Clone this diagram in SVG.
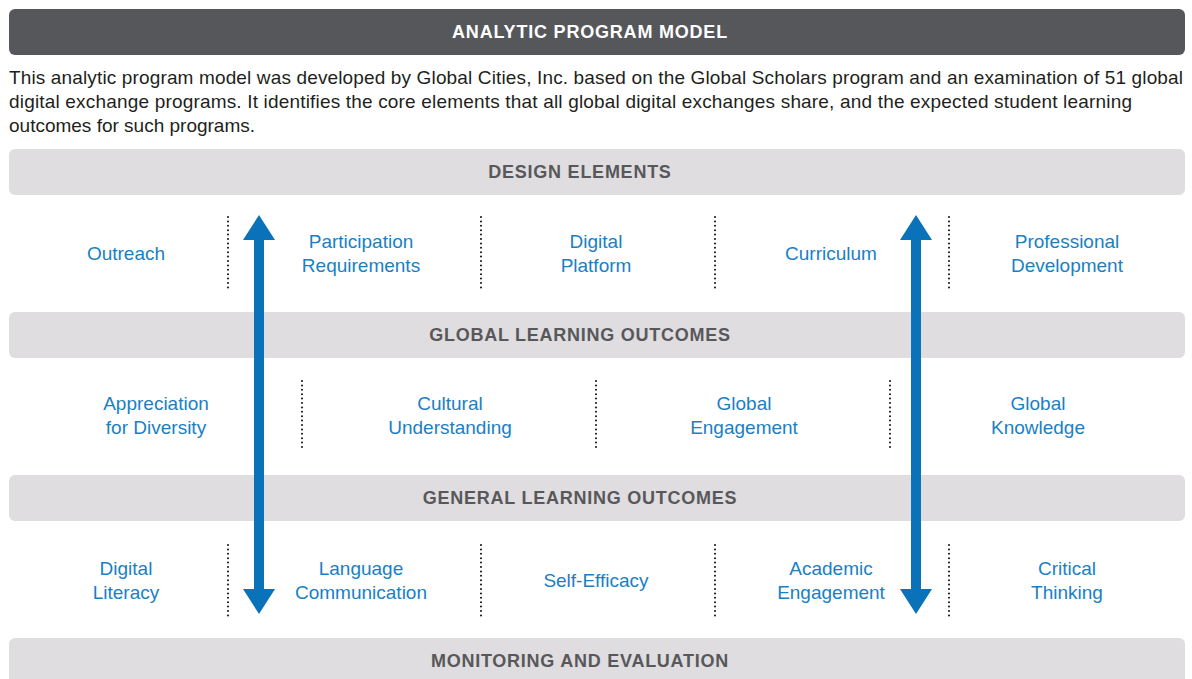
<svg xmlns="http://www.w3.org/2000/svg" width="1192" height="679" viewBox="0 0 1192 679">
<style>
.bg{fill:#ffffff}
.title{fill:#56575b}
.bar{fill:#dfdddf}
.tt{font-family:"Liberation Sans",Arial,sans-serif;font-weight:bold;font-size:18px;fill:#ffffff;text-anchor:middle;letter-spacing:0.8px}
.bt{font-family:"Liberation Sans",Arial,sans-serif;font-weight:bold;font-size:18px;fill:#58585b;text-anchor:middle;letter-spacing:0.75px}
.desc{font-family:"Liberation Sans",Arial,sans-serif;font-size:19px;fill:#231f20}
.lb{font-family:"Liberation Sans",Arial,sans-serif;font-size:19px;fill:#1a80c4;text-anchor:middle}
.dot{stroke:#111;stroke-width:2;stroke-dasharray:0 4.4;stroke-linecap:round;fill:none}
.arr{fill:#0a72b9}
</style>
<rect class="bg" width="1192" height="679"/>
<g id="title">
<rect class="title" x="9" y="9" width="1176" height="46" rx="6"/>
<text class="tt" x="590" y="38">ANALYTIC PROGRAM MODEL</text>
</g>
<g id="description">
<text class="desc" x="9" y="84" textLength="1174" lengthAdjust="spacing">This analytic program model was developed by Global Cities, Inc. based on the Global Scholars program and an examination of 51 global</text>
<text class="desc" x="9" y="108" textLength="1123" lengthAdjust="spacing">digital exchange programs. It identifies the core elements that all global digital exchanges share, and the expected student learning</text>
<text class="desc" x="9" y="132">outcomes for such programs.</text>
</g>
<g id="design-elements">
<rect class="bar" x="9" y="149" width="1176" height="46" rx="6"/>
<text class="bt" x="580" y="178">DESIGN ELEMENTS</text>
</g>
<g id="outreach"><text class="lb" x="126" y="260">Outreach</text></g>
<g id="participation"><text class="lb" x="361" y="248">Participation</text><text class="lb" x="361" y="272">Requirements</text></g>
<g id="digital-platform"><text class="lb" x="596" y="248">Digital</text><text class="lb" x="596" y="272">Platform</text></g>
<g id="curriculum"><text class="lb" x="831" y="260">Curriculum</text></g>
<g id="professional-development"><text class="lb" x="1067" y="248">Professional</text><text class="lb" x="1067" y="272">Development</text></g>
<g id="global-learning-outcomes">
<rect class="bar" x="9" y="312" width="1176" height="46" rx="6"/>
<text class="bt" x="580" y="341">GLOBAL LEARNING OUTCOMES</text>
</g>
<g id="appreciation"><text class="lb" x="156" y="410">Appreciation</text><text class="lb" x="156" y="434">for Diversity</text></g>
<g id="cultural"><text class="lb" x="450" y="410">Cultural</text><text class="lb" x="450" y="434">Understanding</text></g>
<g id="global-engagement"><text class="lb" x="744" y="410">Global</text><text class="lb" x="744" y="434">Engagement</text></g>
<g id="global-knowledge"><text class="lb" x="1038" y="410">Global</text><text class="lb" x="1038" y="434">Knowledge</text></g>
<g id="general-learning-outcomes">
<rect class="bar" x="9" y="475" width="1176" height="46" rx="6"/>
<text class="bt" x="580" y="504">GENERAL LEARNING OUTCOMES</text>
</g>
<g id="digital-literacy"><text class="lb" x="126" y="575">Digital</text><text class="lb" x="126" y="599">Literacy</text></g>
<g id="language"><text class="lb" x="361" y="575">Language</text><text class="lb" x="361" y="599">Communication</text></g>
<g id="self-efficacy"><text class="lb" x="596" y="587">Self-Efficacy</text></g>
<g id="academic"><text class="lb" x="831" y="575">Academic</text><text class="lb" x="831" y="599">Engagement</text></g>
<g id="critical"><text class="lb" x="1067" y="575">Critical</text><text class="lb" x="1067" y="599">Thinking</text></g>
<g id="monitoring">
<rect class="bar" x="9" y="638" width="1176" height="60" rx="6"/>
<text class="bt" x="580" y="667">MONITORING AND EVALUATION</text>
</g>
<g id="connectors">
<path class="dot" d="M228 217V290M481 217V290M715 217V290M949 217V290"/>
<path class="dot" d="M302 381V450M596 381V450M890 381V450"/>
<path class="dot" d="M228 545V617M481 545V617M715 545V617M949 545V617"/>
<path class="arr" d="M259 215L275 240H264V589H275L259 614L243 589H254V240H243Z"/>
<path class="arr" d="M916 215L932 240H921V589H932L916 614L900 589H911V240H900Z"/>
</g>
</svg>
